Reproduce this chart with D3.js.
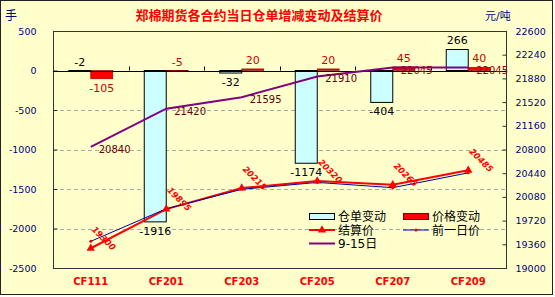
<!DOCTYPE html>
<html>
<head>
<meta charset="utf-8">
<script src="https://cdn.jsdelivr.net/npm/d3@7"></script>
<style>
  body { margin: 0; background: #fff; }
  svg { display: block; }
  text { font-family: "DejaVu Sans", "Noto Sans CJK SC", sans-serif; }
</style>
</head>
<body>
<svg id="chart" width="555" height="297"></svg>
<script>
const categories = ["CF111", "CF201", "CF203", "CF205", "CF207", "CF209"];
const warrantChange = [-2, -1916, -32, -1174, -404, 266];
const priceChange = [-105, -5, 20, 20, 45, 40];
const settlePrice = [19300, 19895, 20215, 20320, 20265, 20485];
const prevPrice = [19405, 19900, 20195, 20300, 20220, 20445];
const price915 = [20840, 21420, 21595, 21910, 22045, 22045];
const leftTicks = [500, 0, -500, -1000, -1500, -2000, -2500];
const rightTicks = [22600, 22240, 21880, 21520, 21160, 20800, 20440, 20080, 19720, 19360, 19000];

const CJK = '"Noto Sans CJK SC", "DejaVu Sans", sans-serif';
const margin = { top: 31, right: 49, bottom: 29, left: 53 };
const W = 555, H = 297;

const svg = d3.select("#chart");

// background frame
svg.append("rect")
  .attr("x", 0.5).attr("y", 0.5)
  .attr("width", 552).attr("height", 294)
  .attr("fill", "#FFFFCC")
  .attr("stroke", "#222");

const x0 = d3.scaleBand()
  .domain(categories)
  .range([margin.left, W - margin.right]);

const x1 = d3.scaleBand()
  .domain(["仓单变动", "价格变动"])
  .range([0, x0.bandwidth()])
  .paddingOuter(0.716);

const yL = d3.scaleLinear()
  .domain([-2500, 500])
  .range([H - margin.bottom, margin.top]);

const yR = d3.scaleLinear()
  .domain([19000, 22600])
  .range([H - margin.bottom, margin.top]);

const cx = c => x0(c) + x0.bandwidth() / 2;

// grid
svg.append("g")
  .selectAll("line")
  .data(leftTicks.filter(v => v < 0 && v > -2500))
  .join("line")
  .attr("x1", margin.left).attr("x2", W - margin.right)
  .attr("y1", d => Math.round(yL(d)) + 0.5)
  .attr("y2", d => Math.round(yL(d)) + 0.5)
  .attr("stroke", "#aaa")
  .attr("stroke-dasharray", "4,3");

// plot border
svg.append("rect")
  .attr("x", margin.left + 0.5).attr("y", margin.top + 0.5)
  .attr("width", W - margin.left - margin.right)
  .attr("height", H - margin.top - margin.bottom)
  .attr("fill", "none")
  .attr("stroke", "#333");

// left axis
const leftAxis = svg.append("g")
  .attr("transform", `translate(${margin.left + 0.5},0)`)
  .call(d3.axisLeft(yL).tickValues(leftTicks).tickFormat(d => String(d))
    .tickSizeInner(-4).tickSizeOuter(0).tickPadding(17));
leftAxis.select(".domain").remove();
leftAxis.selectAll("text")
  .attr("fill", "#000080").attr("font-size", "9.5px")
  .attr("font-family", "DejaVu Sans, sans-serif");
leftAxis.selectAll("line").attr("stroke", "#333");

// right axis
const rightAxis = svg.append("g")
  .attr("transform", `translate(${W - margin.right + 0.5},0)`)
  .call(d3.axisRight(yR).tickValues(rightTicks).tickFormat(d => String(d))
    .tickSizeInner(-4).tickSizeOuter(0).tickPadding(9));
rightAxis.select(".domain").remove();
rightAxis.selectAll("text")
  .attr("fill", "#000080").attr("font-size", "9.5px")
  .attr("font-family", "DejaVu Sans, sans-serif");
rightAxis.selectAll("line").attr("stroke", "#333");

// bars
const rows = categories.map((c, i) => ({ c, w: warrantChange[i], p: priceChange[i] }));
const y0 = yL(0);

svg.append("g")
  .selectAll("rect")
  .data(rows)
  .join("rect")
  .attr("x", d => x0(d.c) + x1("仓单变动"))
  .attr("width", x1.bandwidth())
  .attr("y", d => Math.min(yL(d.w), y0))
  .attr("height", d => Math.abs(yL(d.w) - y0))
  .attr("fill", "#CCFFFF")
  .attr("stroke", "#000");

svg.append("g")
  .selectAll("rect")
  .data(rows)
  .join("rect")
  .attr("x", d => x0(d.c) + x1("价格变动"))
  .attr("width", x1.bandwidth())
  .attr("y", d => Math.min(yL(d.p), y0))
  .attr("height", d => Math.abs(yL(d.p) - y0))
  .attr("fill", "#FF0000")
  .attr("stroke", "#800000")
  .attr("stroke-width", 0.6);

// zero line + category ticks
svg.append("line")
  .attr("x1", margin.left).attr("x2", W - margin.right)
  .attr("y1", Math.round(y0) + 0.5).attr("y2", Math.round(y0) + 0.5)
  .attr("stroke", "#000");

svg.append("g")
  .selectAll("line")
  .data(categories.slice(1))
  .join("line")
  .attr("x1", d => Math.round(x0(d)) + 0.5).attr("x2", d => Math.round(x0(d)) + 0.5)
  .attr("y1", y0 - 4).attr("y2", y0)
  .attr("stroke", "#000");

// bar labels: tiny negatives sit above the zero line, larger ones below the bar end
const barLabelY = v => v < -10 ? yL(v) + 13 : Math.min(yL(v), y0) - 5;

svg.append("g")
  .selectAll("text")
  .data(rows)
  .join("text")
  .attr("x", d => x0(d.c) + x1("仓单变动") + x1.bandwidth() / 2)
  .attr("y", d => barLabelY(d.w))
  .attr("text-anchor", "middle")
  .attr("font-size", "11px")
  .attr("fill", "#000")
  .text(d => d.w);

svg.append("g")
  .selectAll("text")
  .data(rows)
  .join("text")
  .attr("x", d => x0(d.c) + x1("价格变动") + x1.bandwidth() / 2)
  .attr("y", d => barLabelY(d.p))
  .attr("text-anchor", "middle")
  .attr("font-size", "11px")
  .attr("fill", "#CC0000")
  .text(d => d.p);

// lines
const line = d3.line().x((d, i) => cx(categories[i])).y(d => yR(d));

svg.append("path")
  .datum(price915)
  .attr("d", line)
  .attr("fill", "none")
  .attr("stroke", "#800080")
  .attr("stroke-width", 2);

svg.append("path")
  .datum(settlePrice)
  .attr("d", line)
  .attr("fill", "none")
  .attr("stroke", "#FF0000")
  .attr("stroke-width", 2);

svg.append("path")
  .datum(prevPrice)
  .attr("d", line)
  .attr("fill", "none")
  .attr("stroke", "#0000A0")
  .attr("stroke-width", 1);

const tri = d3.symbol().type(d3.symbolTriangle).size(30);

svg.append("g")
  .selectAll("path")
  .data(settlePrice)
  .join("path")
  .attr("d", tri)
  .attr("transform", (d, i) => `translate(${cx(categories[i])},${yR(d)})`)
  .attr("fill", "#FF0000");

svg.append("g")
  .selectAll("circle")
  .data(prevPrice)
  .join("circle")
  .attr("cx", (d, i) => cx(categories[i]))
  .attr("cy", d => yR(d))
  .attr("r", 1.5)
  .attr("fill", "#FF0000");

// line labels
svg.append("g")
  .selectAll("text")
  .data(price915)
  .join("text")
  .attr("x", (d, i) => cx(categories[i]) + 8)
  .attr("y", d => yR(d) + 6)
  .attr("font-size", "10px")
  .attr("fill", (d, i) => i >= 4 ? "#A00000" : "#660000")
  .text(d => d);

svg.append("g")
  .selectAll("text")
  .data(settlePrice)
  .join("text")
  .attr("transform", (d, i) => `translate(${cx(categories[i]) + 13},${yR(d) - 10}) rotate(45)`)
  .attr("text-anchor", "middle")
  .attr("dy", "0.35em")
  .attr("font-size", "8.5px")
  .attr("font-weight", "bold")
  .attr("font-style", "italic")
  .attr("fill", "#FF0000")
  .text(d => d);

// category labels
svg.append("g")
  .selectAll("text")
  .data(categories)
  .join("text")
  .attr("x", d => cx(d))
  .attr("y", H - margin.bottom + 17)
  .attr("text-anchor", "middle")
  .attr("font-size", "10px")
  .attr("font-weight", "bold")
  .attr("fill", "#FF0000")
  .text(d => d);

// title and units
svg.append("text")
  .attr("x", 259).attr("y", 20)
  .attr("text-anchor", "middle")
  .attr("font-family", CJK)
  .attr("font-size", "13px")
  .attr("font-weight", "bold")
  .attr("fill", "#FF0000")
  .text("郑棉期货各合约当日仓单增减变动及结算价");

svg.append("text")
  .attr("x", 5).attr("y", 20)
  .attr("font-family", CJK)
  .attr("font-size", "12px")
  .attr("fill", "#000080")
  .text("手");

svg.append("text")
  .attr("x", 485).attr("y", 20)
  .attr("font-family", CJK)
  .attr("font-size", "11px")
  .attr("fill", "#000080")
  .text("元/吨");

// legend
const legend = svg.append("g").attr("transform", "translate(309,210)");
const items = [
  { name: "仓单变动", type: "box", fill: "#CCFFFF", stroke: "#000", col: 0, row: 0 },
  { name: "价格变动", type: "box", fill: "#FF0000", stroke: "#800000", col: 1, row: 0 },
  { name: "结算价", type: "line", stroke: "#FF0000", width: 2, marker: "tri", col: 0, row: 1 },
  { name: "前一日价", type: "line", stroke: "#0000A0", width: 1, marker: "dot", col: 1, row: 1 },
  { name: "9-15日", type: "line", stroke: "#800080", width: 2, col: 0, row: 2 }
];

const li = legend.selectAll("g")
  .data(items)
  .join("g")
  .attr("transform", d => `translate(${d.col * 94},${d.row * 13.5})`);

li.filter(d => d.type === "box").append("rect")
  .attr("x", 0.5).attr("y", 3.5).attr("width", 25).attr("height", 6)
  .attr("fill", d => d.fill).attr("stroke", d => d.stroke);

li.filter(d => d.type === "line").append("line")
  .attr("x1", 0).attr("x2", 26).attr("y1", 6.5).attr("y2", 6.5)
  .attr("stroke", d => d.stroke).attr("stroke-width", d => d.width);

li.filter(d => d.marker === "tri").append("path")
  .attr("d", tri).attr("transform", "translate(13,6.5)").attr("fill", "#FF0000");

li.filter(d => d.marker === "dot").append("circle")
  .attr("cx", 13).attr("cy", 6.5).attr("r", 1.5).attr("fill", "#FF0000");

li.append("text")
  .attr("x", 29).attr("y", 11)
  .attr("font-family", CJK)
  .attr("font-size", "12px")
  .attr("fill", "#000")
  .text(d => d.name);
</script>
</body>
</html>
